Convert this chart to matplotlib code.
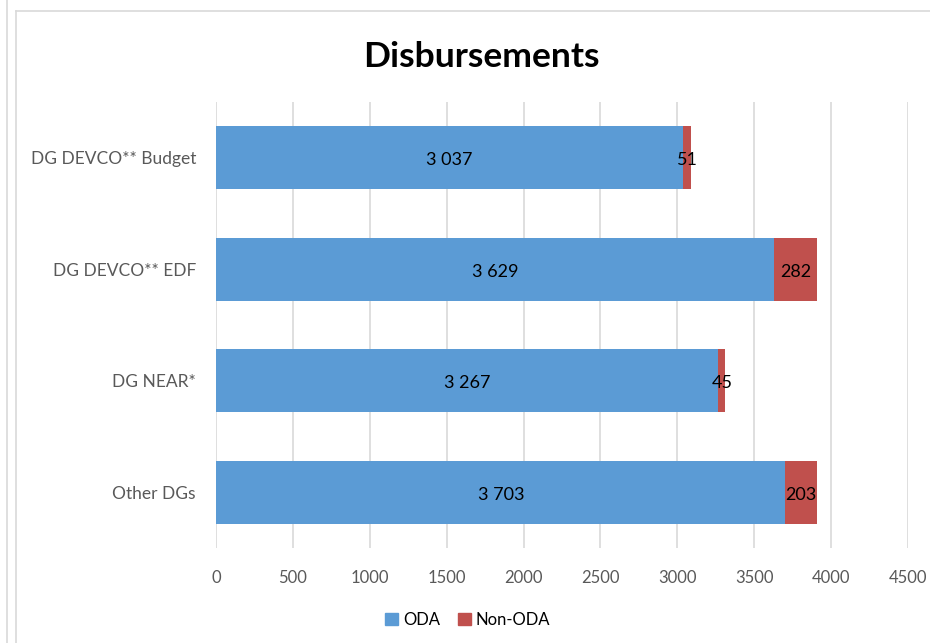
import matplotlib
matplotlib.use("Agg")
import matplotlib.pyplot as plt
from matplotlib.lines import Line2D
from matplotlib.patches import Rectangle

categories = ["DG DEVCO** Budget", "DG DEVCO** EDF", "DG NEAR*", "Other DGs"]
oda = [3037, 3629, 3267, 3703]
non_oda = [51, 282, 45, 203]
series_names = ["ODA", "Non-ODA"]
xticks = [0, 500, 1000, 1500, 2000, 2500, 3000, 3500, 4000, 4500]

plt.rcParams['font.family'] = ['Lato', 'DejaVu Sans']

c_oda = "#5B9BD5"
c_non = "#C0504D"

fig = plt.figure(figsize=(9.3, 6.43), dpi=100)
ax = fig.add_axes([0.2323, 0.1477, 0.7441, 0.6936])

ypos = list(range(len(categories)))
ax.barh(ypos, oda, height=0.566, color=c_oda, label=series_names[0], zorder=3)
ax.barh(ypos, non_oda, left=oda, height=0.566, color=c_non, label=series_names[1], zorder=3)

def fmt(v):
    return f"{v:,}".replace(",", " ")

for y, a, b in zip(ypos, oda, non_oda):
    ax.text(a / 2, y + 0.02, fmt(a), ha="center", va="center", fontsize=13, color="black", zorder=4)
    ax.text(a + b / 2, y + 0.02, fmt(b), ha="center", va="center", fontsize=13, color="black", zorder=4)

ax.set_ylim(len(categories) - 0.5, -0.5)
ax.set_xlim(0, 4500)
ax.set_xticks(xticks)
ax.set_xticklabels([str(t) for t in xticks])
ax.set_yticks(ypos)
ax.set_yticklabels(categories)
ax.tick_params(axis="both", length=0, labelsize=12, colors="#595959")
ax.tick_params(axis="y", labelsize=12.5, pad=14.5)
ax.tick_params(axis="x", pad=16)
ax.grid(axis="x", color="#D9D9D9", linewidth=1.2, zorder=0)
for s in ax.spines.values():
    s.set_visible(False)

fig.text(0.518, 0.912, "Disbursements", ha="center", va="center", fontsize=25.5, fontweight="bold", color="black")

handles = [Rectangle((0, 0), 1, 1, color=c_oda), Rectangle((0, 0), 1, 1, color=c_non)]
fig.legend(handles, series_names, loc="center", bbox_to_anchor=(0.503, 0.036), ncol=2, frameon=False,
           fontsize=12, handlelength=0.75, handleheight=0.75, handletextpad=0.3, columnspacing=1.1)

# chart frame lines
fig.add_artist(Line2D([7 / 930, 7 / 930], [0, 1], color="#D9D9D9", linewidth=1.2, transform=fig.transFigure))
fig.add_artist(Line2D([16 / 930, 16 / 930], [0, 1 - 11 / 643], color="#D9D9D9", linewidth=1.2, transform=fig.transFigure))
fig.add_artist(Line2D([16 / 930, 1], [1 - 11 / 643, 1 - 11 / 643], color="#D9D9D9", linewidth=1.2, transform=fig.transFigure))

fig.savefig("out.png", dpi=100)
